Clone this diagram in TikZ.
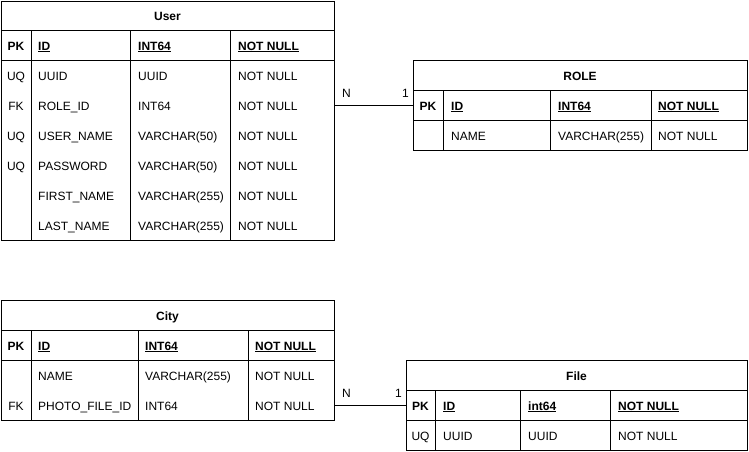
\documentclass[tikz,border=0pt]{standalone}
\usepackage{fontspec}
\setmainfont{Liberation Sans}
\begin{document}
\begin{tikzpicture}[x=1pt,y=-1pt,
	font=\fontsize{12}{14}\selectfont,
	tbl/.style={draw,line width=1pt,anchor=north west,inner sep=0pt},
	grid/.style={line width=1pt},
	cell/.style={anchor=west,inner sep=0pt,text height=10.2pt,text depth=0pt},
	keycell/.style={cell,anchor=center},
	head/.style={font=\fontsize{12}{14}\selectfont\bfseries},
	title/.style={keycell,head}]
		\useasboundingbox (0,0) rectangle (749,451);
		
		\node[tbl,minimum width=333pt,minimum height=239pt] (user) at (1,1) {};
		\draw[grid](1,30)--(334,30);
		\draw[grid](1,60)--(334,60);
		\draw[grid](31,30)--(31,240);
		\draw[grid](130,30)--(130,240);
		\draw[grid](230,30)--(230,240);
		\node[title] (uT) at (167.5,15){User};
		\node[keycell,head] (uPK) at (16,45){PK};
		\node[cell,head] (uID) at (38,45){\underline{ID}};
		\node[cell,head] (uIDt) at (138,45){\underline{INT64}};
		\node[cell,head] (uIDn) at (238,45){\underline{NOT NULL}};
		\node[keycell] (uUQ) at (16,75){UQ};
		\node[cell] (uUUID) at (38,75){UUID};
		\node[cell] (uUUIDt) at (138,75){UUID};
		\node[cell] (uUUIDn) at (238,75){NOT NULL};
		\node[keycell] (uFK) at (16,105){FK};
		\node[cell] (uRole) at (38,105){ROLE\_ID};
		\node[cell] (uRolet) at (138,105){INT64};
		\node[cell] (uRolen) at (238,105){NOT NULL};
		\node[keycell] (uUQa) at (16,135){UQ};
		\node[cell] (uName) at (38,135){USER\_NAME};
		\node[cell] (uNamet) at (138,135){VARCHAR(50)};
		\node[cell] (uNamen) at (238,135){NOT NULL};
		\node[keycell] (uUQb) at (16,165){UQ};
		\node[cell] (uPass) at (38,165){PASSWORD};
		\node[cell] (uPasst) at (138,165){VARCHAR(50)};
		\node[cell] (uPassn) at (238,165){NOT NULL};
		\node[cell] (uFirst) at (38,195){FIRST\_NAME};
		\node[cell] (uFirstt) at (138,195){VARCHAR(255)};
		\node[cell] (uFirstn) at (238,195){NOT NULL};
		\node[cell] (uLast) at (38,225){LAST\_NAME};
		\node[cell] (uLastt) at (138,225){VARCHAR(255)};
		\node[cell] (uLastn) at (238,225){NOT NULL};
		
		\node[tbl,minimum width=334pt,minimum height=90pt] (role) at (413,60) {};
		\draw[grid](413,90)--(747,90);
		\draw[grid](413,120)--(747,120);
		\draw[grid](443,90)--(443,150);
		\draw[grid](550,90)--(550,150);
		\draw[grid](651,90)--(651,150);
		\node[title] (rT) at (580,75){ROLE};
		\node[keycell,head] (rPK) at (428,105){PK};
		\node[cell,head] (rID) at (451,105){\underline{ID}};
		\node[cell,head] (rIDt) at (558,105){\underline{INT64}};
		\node[cell,head] (rIDn) at (658,105){\underline{NOT NULL}};
		\node[cell] (rName) at (451,135){NAME};
		\node[cell] (rNamet) at (558,135){VARCHAR(255)};
		\node[cell] (rNamen) at (658,135){NOT NULL};
		
		\node[tbl,minimum width=333pt,minimum height=120pt] (city) at (1,300) {};
		\draw[grid](1,330)--(334,330);
		\draw[grid](1,360)--(334,360);
		\draw[grid](31,330)--(31,420);
		\draw[grid](138,330)--(138,420);
		\draw[grid](248,330)--(248,420);
		\node[title] (cT) at (167.5,315){City};
		\node[keycell,head] (cPK) at (16,345){PK};
		\node[cell,head] (cID) at (38,345){\underline{ID}};
		\node[cell,head] (cIDt) at (145,345){\underline{INT64}};
		\node[cell,head] (cIDn) at (255,345){\underline{NOT NULL}};
		\node[cell] (cName) at (38,375){NAME};
		\node[cell] (cNamet) at (145,375){VARCHAR(255)};
		\node[cell] (cNamen) at (255,375){NOT NULL};
		\node[keycell] (cFK) at (16,405){FK};
		\node[cell] (cPhoto) at (38,405){PHOTO\_FILE\_ID};
		\node[cell] (cPhotot) at (145,405){INT64};
		\node[cell] (cPhoton) at (255,405){NOT NULL};
		
		\node[tbl,minimum width=341pt,minimum height=90pt] (file) at (406,360) {};
		\draw[grid](406,390)--(747,390);
		\draw[grid](406,420)--(747,420);
		\draw[grid](435,390)--(435,450);
		\draw[grid](520,390)--(520,450);
		\draw[grid](610,390)--(610,450);
		\node[title] (fT) at (576.5,375){File};
		\node[keycell,head] (fPK) at (420.5,405){PK};
		\node[cell,head] (fID) at (443,405){\underline{ID}};
		\node[cell,head] (fIDt) at (528,405){\underline{int64}};
		\node[cell,head] (fIDn) at (618,405){\underline{NOT NULL}};
		\node[keycell] (fUQ) at (420.5,435){UQ};
		\node[cell] (fUUID) at (443,435){UUID};
		\node[cell] (fUUIDt) at (528,435){UUID};
		\node[cell] (fUUIDn) at (618,435){NOT NULL};
		
		\draw[grid](user.east |- uFK)--(role.west |- rPK);
		\node[cell] (urN) at (342,92){N};
		\node[cell,anchor=east] (ur1) at (409,92){1};
		
		\draw[grid](city.east |- cFK)--(file.west |- fPK);
		\node[cell] (cfN) at (342,392){N};
		\node[cell,anchor=east] (cf1) at (402,392){1};
\end{tikzpicture}
\end{document}
